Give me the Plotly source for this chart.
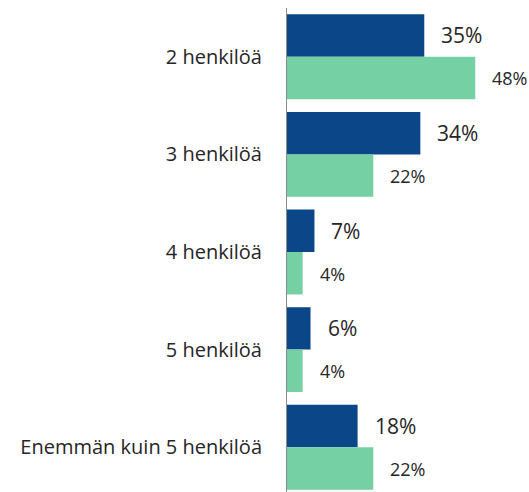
import plotly.graph_objects as go

categories = ["2 henkilöä", "3 henkilöä", "4 henkilöä", "5 henkilöä", "Enemmän kuin 5 henkilöä"]
series_a = [35, 34, 7, 6, 18]
series_b = [48, 22, 4, 4, 22]
labels_a = [f"{v}%" for v in series_a]
labels_b = [f"{v}%" for v in series_b]

dark = "#0B4689"
green = "#75D0A3"

fig = go.Figure()
fig.add_trace(go.Bar(y=categories, x=series_a, orientation="h", marker_color=dark,
                     marker_line_width=0, hoverinfo="skip"))
fig.add_trace(go.Bar(y=categories, x=series_b, orientation="h", marker_color=green,
                     marker_line_width=0, hoverinfo="skip"))

ann = []
for c, v, t in zip(categories, series_a, labels_a):
    ann.append(dict(x=v, y=c, text=t, showarrow=False, xanchor="left", yanchor="middle",
                    xshift=15, yshift=21.5, font=dict(size=21, color="#262626", family="Open Sans")))
for c, v, t in zip(categories, series_b, labels_b):
    ann.append(dict(x=v, y=c, text=t, showarrow=False, xanchor="left", yanchor="middle",
                    xshift=15, yshift=-21.5, font=dict(size=18, color="#262626", family="Open Sans")))

fig.update_layout(
    width=529, height=492,
    margin=dict(l=287, r=0, t=8, b=0),
    barmode="group", bargap=0.13, bargroupgap=0,
    showlegend=False,
    plot_bgcolor="white", paper_bgcolor="white",
    annotations=ann,
    font=dict(family="Open Sans", color="#262626"),
)
fig.update_xaxes(range=[0, 61.7], visible=False, showgrid=False, zeroline=False)
fig.update_yaxes(categoryorder="array", categoryarray=categories, range=[4.459, -0.5],
                 showline=True, linecolor="#8c8c8c", linewidth=1, ticks="", showgrid=False,
                 tickfont=dict(size=20, color="#262626", family="Open Sans"),
                 ticklabelstandoff=20)

fig.write_html(
    "out.html",
    config={"displayModeBar": False},
    post_script=("document.documentElement.style.overflow='hidden';"
                 "document.body.style.overflow='hidden';"
                 "document.body.style.margin='0';"),
)
